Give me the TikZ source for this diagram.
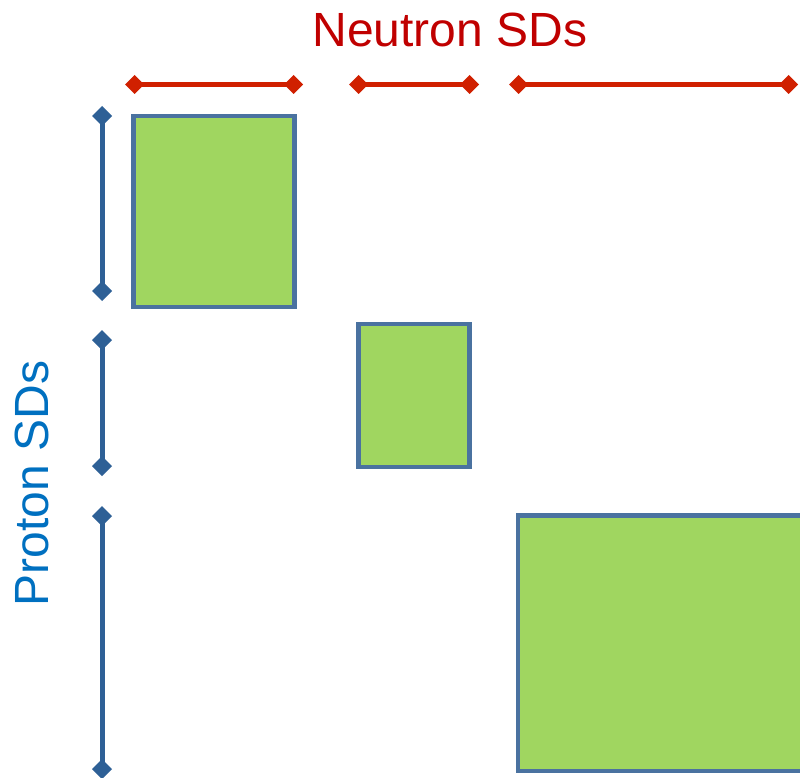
\documentclass[tikz,border=0pt]{standalone}
\usepackage{fontspec}
\setmainfont{Liberation Sans}
\usetikzlibrary{arrows.meta}
\definecolor{boxfill}{HTML}{A0D660}
\definecolor{boxedge}{HTML}{4A72A0}
\definecolor{projblue}{HTML}{2E6096}
\definecolor{neured}{HTML}{D02000}
\definecolor{neutext}{HTML}{C00000}
\definecolor{protext}{HTML}{0070C0}
\tikzset{
  blockbox/.style={draw=boxedge, fill=boxfill, line width=4.5pt},
  neuspan/.style={draw=neured, line width=5pt, {Diamond[width=19pt,length=19pt]}-{Diamond[width=19pt,length=19pt]}},
  prospan/.style={draw=projblue, line width=5pt, {Diamond[width=20pt,length=20pt]}-{Diamond[width=20pt,length=20pt]}},
  lbl/.style={font=\fontsize{48}{56}\selectfont, inner sep=0pt, anchor=base}
}
\begin{document}
\begin{tikzpicture}[x=1pt,y=-1pt]
\clip (0,0) rectangle (800,778);
\fill[white] (0,0) rectangle (800,778);
% blocks
\draw[blockbox] (133.5,116) rectangle (294.5,307);
\draw[blockbox] (358.5,324) rectangle (469.5,467);
\draw[blockbox] (518,515.5) rectangle (812,771);
% neutron spans
\coordinate (n1a) at (125,84.5); \coordinate (n1b) at (303,84.5);
\coordinate (n2a) at (349,84.5); \coordinate (n2b) at (479,84.5);
\coordinate (n3a) at (509,84.5); \coordinate (n3b) at (798,84.5);
\draw[neuspan] (n1a) -- (n1b);
\draw[neuspan] (n2a) -- (n2b);
\draw[neuspan] (n3a) -- (n3b);
% proton spans
\coordinate (p1a) at (102,106); \coordinate (p1b) at (102,301);
\coordinate (p2a) at (102,330); \coordinate (p2b) at (102,476);
\coordinate (p3a) at (102,506); \coordinate (p3b) at (102,779);
\draw[prospan] (p1a) -- (p1b);
\draw[prospan] (p2a) -- (p2b);
\draw[prospan] (p3a) -- (p3b);
% labels
\node[lbl, text=neutext] (neutron) at (450,47) {Neutron SDs};
\node[lbl, text=protext, rotate=90] (proton) at (48,483.5) {Proton SDs};
\end{tikzpicture}
\end{document}
